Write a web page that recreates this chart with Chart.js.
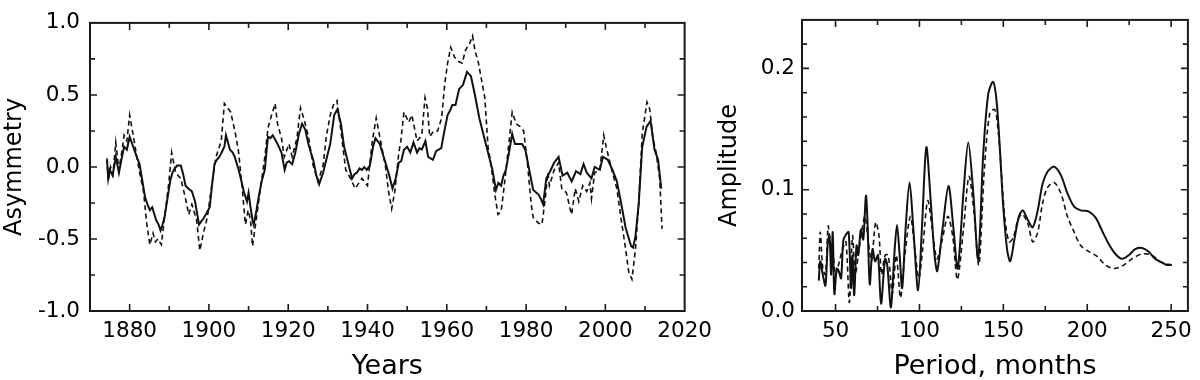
<!DOCTYPE html>
<html>
<head>
<meta charset="utf-8">
<script src="https://cdn.jsdelivr.net/npm/chart.js@4.4.1/dist/chart.umd.min.js"></script>
<style>
html, body { margin: 0; padding: 0; background: #fff; }
#wrap { position: relative; width: 1200px; height: 380px; overflow: hidden; }
#asym { position: absolute; left: 0; top: 0; width: 720px; height: 380px; }
#spec { position: absolute; left: 705px; top: 0; width: 495px; height: 380px; }
</style>
</head>
<body>
<div id="wrap">
  <canvas id="asym" width="720" height="380"></canvas>
  <canvas id="spec" width="495" height="380"></canvas>
</div>
<script>
// left panel: asymmetry vs years (solid and dashed)
const yearsSolid = [1874.3,1874.6,1875.0,1875.7,1876.5,1877.3,1878.0,1878.6,1879.3,1880.0,1880.9,1881.8,1882.5,1883.1,1883.9,1884.5,1885.1,1885.7,1886.7,1887.3,1887.8,1888.3,1888.8,1889.6,1890.2,1890.8,1891.4,1892.0,1892.9,1893.5,1894.1,1894.8,1895.7,1896.5,1897.0,1897.5,1898.0,1898.6,1899.2,1900.2,1900.8,1901.4,1902.0,1902.6,1903.2,1903.9,1904.3,1904.8,1905.3,1906.0,1906.5,1907.5,1908.2,1908.8,1909.6,1910.0,1910.5,1911.0,1911.3,1912.0,1912.6,1913.3,1914.1,1914.5,1914.9,1915.5,1916.1,1916.7,1917.3,1918.3,1919.1,1919.6,1920.2,1921.0,1921.8,1922.7,1923.5,1924.3,1925.1,1925.7,1926.3,1927.1,1927.8,1928.3,1928.8,1929.6,1930.6,1931.6,1932.4,1933.3,1934.1,1935.1,1936.1,1936.7,1937.3,1938.0,1938.6,1939.2,1939.8,1940.6,1941.4,1942.0,1943.1,1944.3,1945.5,1946.3,1947.1,1947.9,1948.5,1949.2,1950.0,1950.8,1951.6,1952.5,1953.1,1953.7,1954.6,1955.3,1956.5,1957.3,1958.6,1959.4,1960.2,1960.8,1961.4,1962.2,1963.1,1964.1,1965.1,1966.1,1967.1,1968.2,1969.2,1970.4,1971.5,1972.4,1973.0,1973.7,1974.3,1974.9,1975.7,1976.5,1977.2,1977.8,1979.0,1979.8,1980.8,1981.8,1983.1,1983.7,1984.3,1985.1,1985.9,1987.1,1988.2,1989.2,1990.4,1991.5,1992.6,1993.7,1994.5,1995.3,1996.5,1997.3,1998.6,1999.4,2000.6,2001.8,2002.9,2003.9,2005.1,2006.5,2007.0,2007.6,2008.4,2009.3,2010.4,2011.4,2012.4,2013.3,2014.1];
const asymSolid = [0.05,-0.08,-0.02,-0.06,0.07,-0.04,0.06,0.14,0.12,0.21,0.14,0.07,0.02,-0.08,-0.21,-0.26,-0.30,-0.28,-0.37,-0.40,-0.44,-0.40,-0.35,-0.21,-0.10,-0.04,-0.01,0.01,0.01,-0.05,-0.13,-0.15,-0.17,-0.24,-0.32,-0.40,-0.38,-0.36,-0.33,-0.28,-0.12,0.02,0.05,0.07,0.10,0.14,0.22,0.17,0.12,0.10,0.07,-0.02,-0.10,-0.17,-0.24,-0.18,-0.28,-0.37,-0.40,-0.30,-0.20,-0.10,-0.02,0.10,0.21,0.20,0.22,0.19,0.16,0.10,-0.02,0.03,0.04,0.02,0.10,0.23,0.30,0.26,0.16,0.10,0.05,-0.06,-0.12,-0.08,-0.04,0.05,0.16,0.36,0.40,0.30,0.14,0.03,-0.08,-0.05,-0.04,-0.01,-0.02,0.00,-0.02,0.01,0.14,0.20,0.16,0.05,-0.06,-0.15,-0.08,0.03,0.04,0.12,0.14,0.10,0.17,0.10,0.13,0.12,0.18,0.07,0.05,0.11,0.13,0.25,0.36,0.39,0.43,0.43,0.54,0.57,0.66,0.63,0.50,0.34,0.23,0.10,-0.02,-0.16,-0.11,-0.13,-0.06,-0.02,0.10,0.23,0.16,0.16,0.16,0.12,-0.02,-0.16,-0.19,-0.22,-0.26,-0.08,-0.04,0.03,0.07,-0.06,-0.04,-0.10,-0.03,-0.05,0.02,-0.04,-0.08,0.00,-0.02,0.07,0.05,-0.02,-0.10,-0.24,-0.42,-0.55,-0.56,-0.48,-0.26,0.14,0.28,0.32,0.12,0.05,-0.15];

const yearsDashed = [1874.3,1874.6,1875.2,1875.8,1876.5,1877.3,1878.0,1878.6,1879.3,1880.0,1880.5,1880.9,1881.8,1882.6,1883.5,1884.3,1885.1,1885.9,1886.5,1887.1,1888.0,1888.8,1889.8,1890.6,1891.6,1892.9,1894.1,1894.9,1895.7,1896.9,1897.7,1898.6,1899.6,1900.6,1901.8,1903.1,1903.9,1904.7,1905.5,1906.7,1907.5,1908.4,1909.2,1909.9,1910.5,1911.0,1912.0,1913.1,1914.1,1914.9,1915.7,1916.7,1917.3,1918.3,1919.0,1920.2,1921.0,1922.2,1923.1,1924.0,1925.1,1926.3,1927.5,1928.8,1929.6,1930.6,1931.4,1932.3,1933.3,1934.5,1935.7,1936.9,1938.6,1940.0,1941.2,1942.2,1943.3,1944.5,1945.3,1946.1,1946.9,1947.9,1948.4,1949.2,1950.4,1951.2,1952.5,1953.7,1954.5,1955.1,1955.7,1956.7,1957.7,1958.7,1959.5,1960.2,1961.0,1962.0,1963.1,1963.9,1964.7,1965.8,1966.5,1967.1,1968.0,1968.8,1969.6,1970.4,1971.2,1972.0,1972.9,1973.7,1974.5,1975.3,1976.5,1977.5,1978.5,1979.4,1980.4,1981.3,1981.8,1983.1,1984.0,1984.8,1985.5,1985.9,1987.1,1988.2,1989.0,1990.2,1991.0,1991.5,1992.4,1993.3,1994.3,1995.3,1996.1,1996.5,1997.3,1998.6,1999.6,2000.2,2001.0,2001.8,2002.9,2003.9,2004.9,2005.9,2006.7,2007.6,2008.4,2009.3,2010.0,2010.5,2011.2,2012.0,2012.8,2013.7,2014.3];
const asymDashed = [0.06,-0.10,0.00,-0.05,0.17,-0.02,0.10,0.22,0.18,0.36,0.28,0.22,0.07,-0.05,-0.17,-0.39,-0.54,-0.46,-0.52,-0.50,-0.54,-0.35,-0.13,0.10,-0.04,-0.08,-0.22,-0.33,-0.26,-0.37,-0.58,-0.46,-0.35,-0.15,0.07,0.18,0.44,0.41,0.38,0.23,0.10,-0.15,-0.40,-0.30,-0.37,-0.55,-0.35,-0.13,0.07,0.27,0.35,0.44,0.30,0.20,0.07,0.16,0.07,0.20,0.41,0.33,0.21,0.01,-0.10,0.01,0.21,0.36,0.43,0.46,0.25,-0.02,-0.08,-0.15,-0.08,-0.13,0.18,0.34,0.18,0.01,-0.17,-0.29,-0.17,0.10,0.18,0.38,0.31,0.36,0.18,0.22,0.48,0.41,0.21,0.25,0.25,0.34,0.58,0.72,0.83,0.76,0.73,0.72,0.81,0.86,0.91,0.81,0.72,0.60,0.48,0.14,0.01,-0.17,-0.33,-0.31,-0.13,0.07,0.38,0.30,0.28,0.25,0.01,-0.26,-0.35,-0.39,-0.40,-0.23,-0.04,-0.13,-0.02,0.03,-0.15,-0.18,-0.28,-0.33,-0.15,-0.24,-0.13,-0.17,-0.11,-0.22,-0.04,-0.02,0.22,0.14,0.05,-0.04,-0.15,-0.35,-0.53,-0.73,-0.78,-0.57,-0.26,0.23,0.36,0.45,0.40,0.20,0.10,-0.08,-0.43];

// right panel: amplitude vs period (months)
const periodSolid = [40.0,40.9,42.4,44.0,45.4,46.4,47.4,48.3,49.3,50.7,51.9,53.3,54.6,56.2,57.8,59.2,60.1,61.1,62.5,63.5,65.1,66.5,68.1,69.0,70.4,72.0,73.6,75.3,77.1,79.5,80.8,83.0,85.0,86.6,88.2,89.7,91.7,94.1,96.4,99.2,101.5,104.1,106.7,109.0,110.6,113.7,117.3,120.2,122.8,126.2,129.1,132.1,135.0,138.0,141.0,143.9,145.9,147.8,149.8,152.2,154.1,156.7,159.3,161.6,164.6,167.5,170.5,173.4,176.4,180.3,184.3,188.2,192.2,196.1,201.0,205.0,208.9,212.9,216.8,220.7,224.7,228.6,232.6,236.5,240.4,244.4,247.3,250.3];
const ampSolid = [0.025,0.041,0.030,0.021,0.057,0.062,0.030,0.065,0.014,0.035,0.033,0.027,0.058,0.063,0.065,0.019,0.046,0.013,0.054,0.046,0.067,0.059,0.095,0.075,0.022,0.051,0.041,0.046,0.006,0.043,0.038,0.003,0.046,0.071,0.046,0.019,0.067,0.106,0.067,0.017,0.069,0.135,0.091,0.046,0.033,0.067,0.103,0.069,0.035,0.097,0.139,0.097,0.043,0.129,0.179,0.189,0.174,0.137,0.089,0.051,0.041,0.060,0.078,0.083,0.075,0.069,0.083,0.105,0.115,0.119,0.112,0.097,0.086,0.083,0.082,0.077,0.066,0.055,0.047,0.043,0.046,0.051,0.052,0.049,0.043,0.040,0.038,0.038];

const periodDashed = [40.0,40.9,42.4,44.0,45.6,46.8,48.3,49.9,52.3,54.2,56.2,58.2,60.1,61.7,63.5,65.5,67.5,69.5,71.4,73.9,75.9,77.4,79.5,81.4,83.8,86.2,88.7,91.3,94.6,97.2,99.6,101.9,104.9,107.5,110.4,113.3,116.9,119.8,122.6,126.2,129.5,132.4,135.4,138.6,141.9,144.9,146.8,148.8,150.8,153.4,155.8,158.7,161.2,164.6,167.5,170.5,173.4,176.4,180.3,184.3,188.2,192.2,196.1,201.0,205.9,210.8,215.8,220.7,226.6,232.6,238.5,244.4,250.3];
const ampDashed = [0.035,0.065,0.035,0.030,0.070,0.057,0.051,0.030,0.041,0.051,0.057,0.007,0.062,0.030,0.046,0.065,0.078,0.057,0.041,0.073,0.062,0.030,0.046,0.046,0.014,0.046,0.011,0.046,0.078,0.051,0.027,0.051,0.091,0.069,0.043,0.057,0.078,0.062,0.026,0.067,0.111,0.083,0.038,0.115,0.163,0.166,0.150,0.115,0.078,0.057,0.060,0.075,0.080,0.072,0.057,0.065,0.089,0.102,0.106,0.097,0.078,0.065,0.054,0.049,0.045,0.038,0.035,0.037,0.043,0.047,0.046,0.040,0.038];

// tick labels
const yearLabels = [1880, 1900, 1920, 1940, 1960, 1980, 2000, 2020];
const asymLabels = [-1, -0.5, 0, 0.5, 1];
const periodLabels = [50, 100, 150, 200, 250];
const ampLabels = [0, 0.1, 0.2];

const FONT = '"DejaVu Sans", "Liberation Sans", Arial, sans-serif';
const INK = '#111';

function pts(xs, ys) {
    return xs.map((x, i) => ({x: x, y: ys[i]}));
}
function has(list, v) {
    return list.some(l => Math.abs(l - v) < 1e-6);
}

// box round the plot area with inward ticks on all four sides
const frame = {
    id: 'frame',
    afterDraw(chart) {
        const {ctx, chartArea: a, scales} = chart;
        ctx.save();
        ctx.strokeStyle = '#1a1a1a';
        ctx.lineWidth = 1.6;
        ctx.beginPath();
        scales.x.ticks.forEach(t => {
            const px = scales.x.getPixelForValue(t.value);
            if (px <= a.left + 1 || px >= a.right - 1) return;
            const len = t.label !== '' ? 7 : 5;
            ctx.moveTo(px, a.top); ctx.lineTo(px, a.top + len);
            ctx.moveTo(px, a.bottom); ctx.lineTo(px, a.bottom - len);
        });
        scales.y.ticks.forEach(t => {
            const py = scales.y.getPixelForValue(t.value);
            if (py <= a.top + 1 || py >= a.bottom - 1) return;
            const len = t.label !== '' ? 7 : 5;
            ctx.moveTo(a.left, py); ctx.lineTo(a.left + len, py);
            ctx.moveTo(a.right, py); ctx.lineTo(a.right - len, py);
        });
        ctx.stroke();
        ctx.lineWidth = 2;
        ctx.strokeRect(a.left, a.top, a.right - a.left, a.bottom - a.top);
        ctx.restore();
    }
};

function line(data, dashed) {
    return {
        data: data,
        borderColor: INK,
        borderWidth: dashed ? 1.6 : 2,
        borderDash: dashed ? [5, 3.5] : [],
        pointRadius: 0,
        fill: false
    };
}

function makeChart(id, cfg) {
    return new Chart(document.getElementById(id), {
        type: 'line',
        data: {datasets: cfg.datasets},
        plugins: [frame],
        options: {
            responsive: false,
            devicePixelRatio: 1,
            animation: false,
            layout: {padding: {top: 11, right: cfg.padRight, left: 0, bottom: 0}},
            plugins: {legend: {display: false}, tooltip: {enabled: false}},
            scales: {
                x: {
                    type: 'linear',
                    min: cfg.xMin, max: cfg.xMax,
                    grid: {display: false, drawTicks: false},
                    border: {display: false},
                    afterFit: s => { s.height = 69; },
                    ticks: {
                        stepSize: cfg.xStep,
                        includeBounds: false,
                        autoSkip: false,
                        maxRotation: 0,
                        padding: 8,
                        color: '#000',
                        font: {family: FONT, size: 21.5},
                        callback: v => has(cfg.xLabels, v) ? String(v) : ''
                    },
                    title: {
                        display: true,
                        text: cfg.xTitle,
                        color: '#000',
                        padding: {top: 0, bottom: 0},
                        font: {family: FONT, size: 27, lineHeight: 1}
                    }
                },
                y: {
                    min: cfg.yMin, max: cfg.yMax,
                    grid: {display: false, drawTicks: false},
                    border: {display: false},
                    afterFit: s => { s.width = cfg.yWidth; },
                    ticks: {
                        stepSize: cfg.yStep,
                        includeBounds: false,
                        autoSkip: false,
                        padding: cfg.yPad,
                        color: '#000',
                        font: {family: FONT, size: 21.5},
                        callback: v => has(cfg.yLabels, v) ? v.toFixed(1) : ''
                    },
                    title: {
                        display: true,
                        text: cfg.yTitle,
                        color: '#000',
                        padding: {top: cfg.yTitlePad, bottom: 0},
                        font: {family: FONT, size: 24}
                    }
                }
            },
            elements: {line: {tension: cfg.tension}}
        }
    });
}

makeChart('asym', {
    datasets: [line(pts(yearsSolid, asymSolid), false), line(pts(yearsDashed, asymDashed), true)],
    padRight: 17,
    xMin: 1870, xMax: 2020, xStep: 10, xLabels: yearLabels, xTitle: 'Years',
    yMin: -1, yMax: 1, yStep: 0.25, yLabels: asymLabels, yTitle: 'Asymmetry',
    yWidth: 90, yPad: 10, yTitlePad: 0,
    tension: 0
});

makeChart('spec', {
    datasets: [line(pts(periodSolid, ampSolid), false), line(pts(periodDashed, ampDashed), true)],
    padRight: 8,
    xMin: 30, xMax: 260, xStep: 25, xLabels: periodLabels, xTitle: 'Period, months',
    yMin: 0, yMax: 0.24, yStep: 0.02, yLabels: ampLabels, yTitle: 'Amplitude',
    yWidth: 97, yPad: 7, yTitlePad: 10,
    tension: 0.3
});
</script>
</body>
</html>
